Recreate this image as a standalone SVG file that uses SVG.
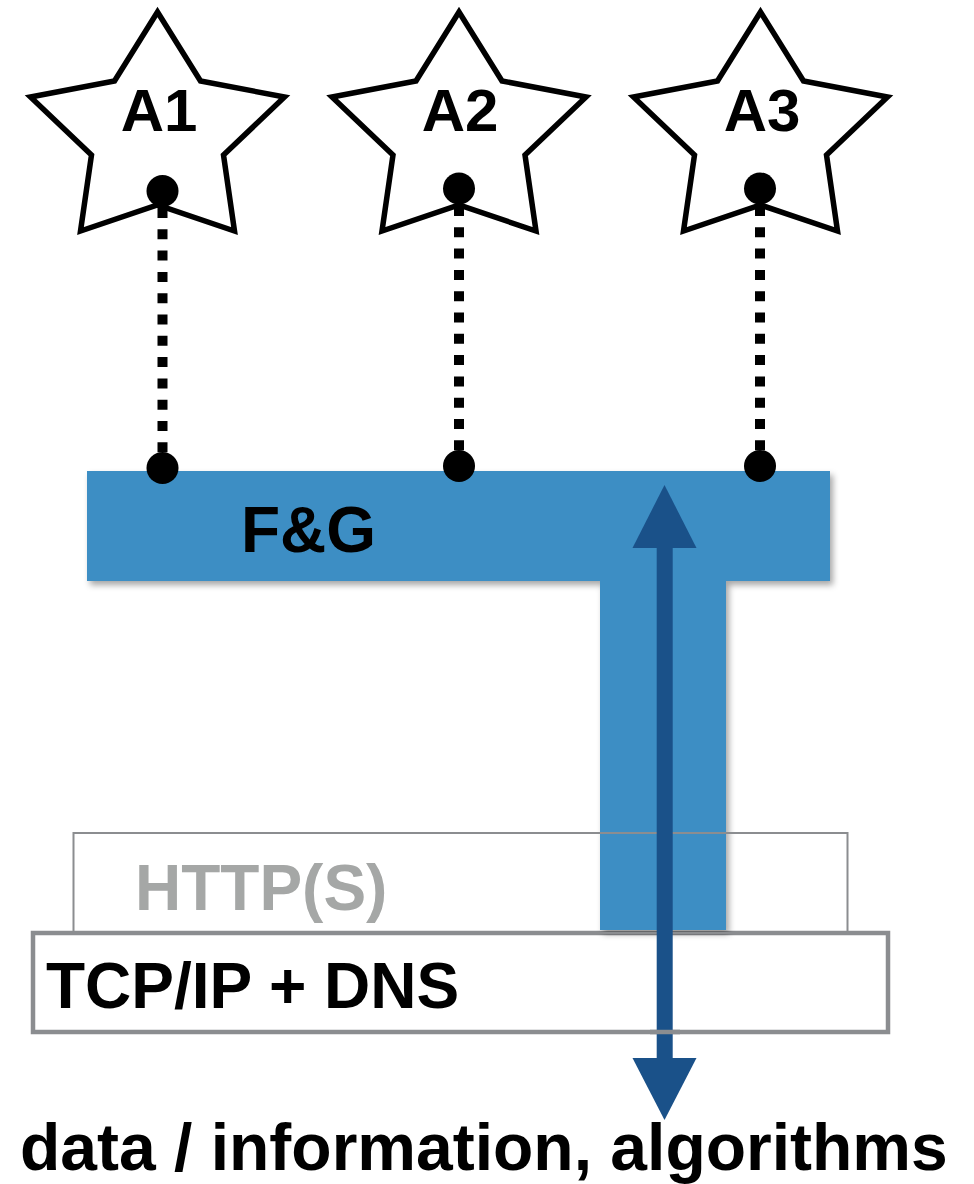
<svg xmlns="http://www.w3.org/2000/svg" width="974" height="1184" viewBox="0 0 974 1184">
  <style>
    .lbl { font-family: "Liberation Sans", Arial, Helvetica, sans-serif; font-weight: bold; font-size: 64px; fill: #000; }
    .agent { font-size: 60px; }
    .star { fill: #fff; stroke: #000; stroke-width: 5.5; stroke-linejoin: miter; }
    .dot { fill: #000; }
    .link { stroke: #000; stroke-width: 10; stroke-dasharray: 10 11.3; fill: none; }
    .layer { fill: none; stroke: #8b8d90; }
    .flow { fill: #1a5189; }
  </style>
  <defs>
    <!-- five-pointed star, centred on x=0 -->
    <path id="starShape" d="M0,12 L43,81 L127,97 L66,155 L77,231 L0,205 L-77,231 L-66,155 L-127,97 L-43,81 Z"/>
    <filter id="shadow" x="-10%" y="-10%" width="120%" height="120%">
      <feDropShadow dx="3" dy="4" stdDeviation="3" flood-color="#000" flood-opacity="0.35"/>
    </filter>
  </defs>

  <rect width="974" height="1184" fill="#fff"/>

  <!-- transport layer -->
  <g id="tcp">
    <rect class="layer" x="33" y="933" width="855" height="99" fill="#fff" stroke-width="4.5"/>
    <text class="lbl" x="46" y="1008">TCP/IP + DNS</text>
  </g>

  <!-- F&G block with its stem -->
  <g id="fg">
    <path d="M87,471 H830 V581 H726 V930 H600 V581 H87 Z" fill="#3e8ec4" filter="url(#shadow)"/>
    <text class="lbl" x="241" y="552">F&amp;G</text>
  </g>

  <!-- application layer (outline only) -->
  <g id="http">
    <rect class="layer" x="73.5" y="833" width="774" height="100" stroke-width="2"/>
    <text class="lbl" x="135" y="910" style="fill:#a5a7a6">HTTP(S)</text>
  </g>

  <!-- agents -->
  <g id="a1">
    <use href="#starShape" class="star" transform="translate(157.5,0)"/>
    <text class="lbl agent" x="159" y="131" text-anchor="middle">A1</text>
  </g>
  <g id="a2">
    <use href="#starShape" class="star" transform="translate(459,0)"/>
    <text class="lbl agent" x="460" y="131" text-anchor="middle">A2</text>
  </g>
  <g id="a3">
    <use href="#starShape" class="star" transform="translate(760.5,0)"/>
    <text class="lbl agent" x="762" y="131" text-anchor="middle">A3</text>
  </g>

  <!-- connectors -->
  <g id="connectors">
    <line class="link" x1="162.5" y1="208" x2="162.5" y2="460"/>
    <line class="link" x1="459" y1="206" x2="459" y2="458"/>
    <line class="link" x1="760" y1="206" x2="760" y2="458"/>
    <circle class="dot" cx="162.5" cy="191" r="16"/>
    <circle class="dot" cx="162.5" cy="468" r="16"/>
    <circle class="dot" cx="459" cy="188.5" r="16"/>
    <circle class="dot" cx="459" cy="466" r="16"/>
    <circle class="dot" cx="760" cy="188.5" r="16"/>
    <circle class="dot" cx="760" cy="466" r="16"/>

    <!-- two-way data flow -->
    <rect class="flow" x="656.7" y="545" width="16" height="516"/>
    <polygon class="flow" points="664.5,485 632.5,548 696.5,548"/>
    <polygon class="flow" points="664.5,1120 632.5,1058 696.5,1058"/>
    <line x1="650" y1="1032" x2="680" y2="1032" stroke="#8b8d90" stroke-width="4.5"/>
  </g>

  <text id="caption" class="lbl" x="20" y="1170" style="font-size:66px">data / information, algorithms</text>
</svg>
